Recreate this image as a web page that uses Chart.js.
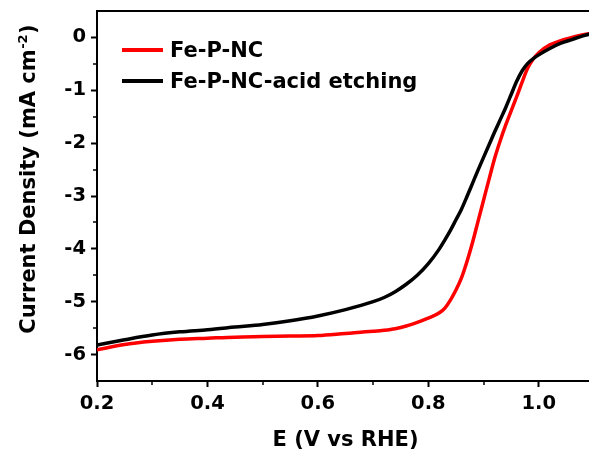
<!DOCTYPE html>
<html>
<head>
<meta charset="utf-8">
<script src="https://cdn.jsdelivr.net/npm/chart.js@4.4.1/dist/chart.umd.min.js"></script>
<style>
  html, body { margin: 0; padding: 0; background: #fff; overflow: hidden; }
  #lsv { display: block; }
</style>
</head>
<body>
<canvas id="lsv" width="596" height="461"></canvas>
<script>
// potential (V vs RHE) and current density (mA cm-2)
const potential = [0.20, 0.25, 0.30, 0.35, 0.40, 0.45, 0.50, 0.55, 0.60, 0.65,
    0.70, 0.72, 0.74, 0.76, 0.78, 0.80, 0.82, 0.83, 0.84, 0.85,
    0.86, 0.87, 0.88, 0.89, 0.90, 0.91, 0.92, 0.93, 0.94, 0.95,
    0.96, 0.97, 0.98, 0.99, 1.00, 1.02, 1.04, 1.06, 1.08, 1.10];
const fePNC = [-5.91, -5.81, -5.75, -5.71, -5.69, -5.67, -5.66, -5.65, -5.64, -5.60,
    -5.56, -5.54, -5.51, -5.46, -5.39, -5.31, -5.21, -5.12, -4.97, -4.78,
    -4.55, -4.24, -3.88, -3.48, -3.08, -2.68, -2.29, -1.96, -1.66, -1.39,
    -1.12, -0.84, -0.58, -0.41, -0.29, -0.14, -0.06, 0.00, 0.05, 0.09];
const fePNCAcid = [-5.82, -5.72, -5.63, -5.57, -5.53, -5.48, -5.43, -5.36, -5.27, -5.15,
    -5.00, -4.92, -4.81, -4.67, -4.50, -4.28, -4.00, -3.83, -3.65, -3.45,
    -3.25, -3.01, -2.76, -2.51, -2.27, -2.03, -1.79, -1.56, -1.33, -1.08,
    -0.83, -0.63, -0.49, -0.40, -0.33, -0.21, -0.11, -0.04, 0.03, 0.08];
const seriesLabels = ['Fe-P-NC', 'Fe-P-NC-acid etching'];
const seriesColors = ['rgb(255,0,0)', 'rgb(0,0,0)'];
const xMajor = [0.2, 0.4, 0.6, 0.8, 1.0];
const yMajor = [0, -1, -2, -3, -4, -5, -6];

const FONT = 'DejaVu Sans';

function toPoints(xs, ys){
    let pts = [];
    for (var i = 0; i < xs.length; i++) {
        pts.push({x: xs[i], y: ys[i]});
    }
    return pts;
}

function isMajor(list, v){
    return list.some(m => Math.abs(m - v) < 1e-6);
}

const extras = {
    id: 'extras',
    afterDraw(chart){
        const ctx = chart.ctx;
        const area = chart.chartArea;
        const xs = chart.scales.x, ys = chart.scales.y;
        ctx.save();
        ctx.strokeStyle = '#000';
        ctx.lineWidth = 2;
        // top and right frame
        ctx.beginPath();
        ctx.moveTo(area.left, area.top);
        ctx.lineTo(area.right, area.top);
        ctx.lineTo(area.right, area.bottom);
        ctx.stroke();
        // minor ticks
        ctx.lineWidth = 1.5;
        ctx.beginPath();
        xs.ticks.forEach(t => {
            if (isMajor(xMajor, t.value) || t.value <= xs.min || t.value >= xs.max) return;
            let px = Math.round(xs.getPixelForValue(t.value));
            ctx.moveTo(px, area.bottom);
            ctx.lineTo(px, area.bottom + 4);
        });
        ys.ticks.forEach(t => {
            if (isMajor(yMajor, t.value) || t.value <= ys.min || t.value >= ys.max) return;
            let py = Math.round(ys.getPixelForValue(t.value));
            ctx.moveTo(area.left, py);
            ctx.lineTo(area.left - 4, py);
        });
        ctx.stroke();

        // y title with superscript
        ctx.fillStyle = '#000';
        ctx.textBaseline = 'alphabetic';
        ctx.textAlign = 'left';
        const mainFont = 'bold 21px "' + FONT + '"';
        const supFont = 'bold 13px "' + FONT + '"';
        const part1 = 'Current Density (mA cm', sup = '-2', part2 = ')';
        ctx.font = mainFont;
        let w1 = ctx.measureText(part1).width, w3 = ctx.measureText(part2).width;
        ctx.font = supFont;
        let w2 = ctx.measureText(sup).width + 1;
        let total = w1 + w2 + w3;
        ctx.save();
        ctx.translate(35, 179);
        ctx.rotate(-Math.PI / 2);
        let x0 = -total / 2;
        ctx.font = mainFont;
        ctx.fillText(part1, x0, 0);
        ctx.font = supFont;
        ctx.fillText(sup, x0 + w1 + 0.5, -8);
        ctx.font = mainFont;
        ctx.fillText(part2, x0 + w1 + w2, 0);
        ctx.restore();

        // legend
        chart.data.datasets.forEach((ds, i) => {
            let ly = 50 + i * 31;
            ctx.strokeStyle = ds.borderColor;
            ctx.lineWidth = 4;
            ctx.beginPath();
            ctx.moveTo(122, ly);
            ctx.lineTo(163, ly);
            ctx.stroke();
            ctx.fillStyle = '#000';
            ctx.font = 'bold 21px "' + FONT + '"';
            ctx.fillText(ds.label, 170, ly + 6.5);
        });
        ctx.restore();
    }
};

const data = {
    datasets: [{
            label: seriesLabels[0],
            data: toPoints(potential, fePNC),
            borderColor: seriesColors[0],
            backgroundColor: seriesColors[0],
            borderWidth: 3.5,
            pointRadius: 0,
            cubicInterpolationMode: 'monotone',
            order: 1
        }, {
            label: seriesLabels[1],
            data: toPoints(potential, fePNCAcid),
            borderColor: seriesColors[1],
            backgroundColor: seriesColors[1],
            borderWidth: 3.5,
            pointRadius: 0,
            cubicInterpolationMode: 'monotone',
            order: 0
        }]
};

const config = {
    type: 'line',
    data: data,
    plugins: [extras],
    options: {
        responsive: false,
        animation: false,
        layout: {padding: {left: 0, top: 11, right: 2, bottom: 0}},
        plugins: {legend: {display: false}, tooltip: {enabled: false}},
        scales: {
            x: {
                type: 'linear',
                min: 0.2,
                max: 1.1,
                afterFit(s){ s.height = 80; s.paddingLeft = 0; s.paddingRight = 0; },
                border: {display: true, color: '#000', width: 2},
                grid: {
                    display: true, drawOnChartArea: false, drawTicks: true,
                    tickLength: 6, tickWidth: 2,
                    tickColor: c => isMajor(xMajor, c.tick.value) ? '#000' : 'rgba(0,0,0,0)'
                },
                ticks: {
                    stepSize: 0.1,
                    autoSkip: false,
                    maxRotation: 0,
                    padding: 5,
                    color: '#000',
                    font: {family: FONT, weight: 'bold', size: 19.5},
                    callback: v => isMajor(xMajor, v) ? v.toFixed(1) : ''
                },
                title: {
                    display: true,
                    text: 'E (V vs RHE)',
                    color: '#000',
                    font: {family: FONT, weight: 'bold', size: 21},
                    padding: {top: 0, bottom: 8}
                }
            },
            y: {
                min: -6.5,
                max: 0.5,
                afterFit(s){ s.width = 97; s.paddingTop = 0; s.paddingBottom = 0; },
                border: {display: true, color: '#000', width: 2},
                grid: {
                    display: true, drawOnChartArea: false, drawTicks: true,
                    tickLength: 6, tickWidth: 2,
                    tickColor: c => isMajor(yMajor, c.tick.value) ? '#000' : 'rgba(0,0,0,0)'
                },
                ticks: {
                    stepSize: 0.5,
                    autoSkip: false,
                    padding: 5,
                    color: '#000',
                    font: {family: FONT, weight: 'bold', size: 19.5},
                    callback: v => isMajor(yMajor, v) ? String(Math.round(v)) : ''
                }
            }
        }
    }
};

let c = document.getElementById('lsv').getContext('2d');
new Chart(c, config);
</script>
</body>
</html>
